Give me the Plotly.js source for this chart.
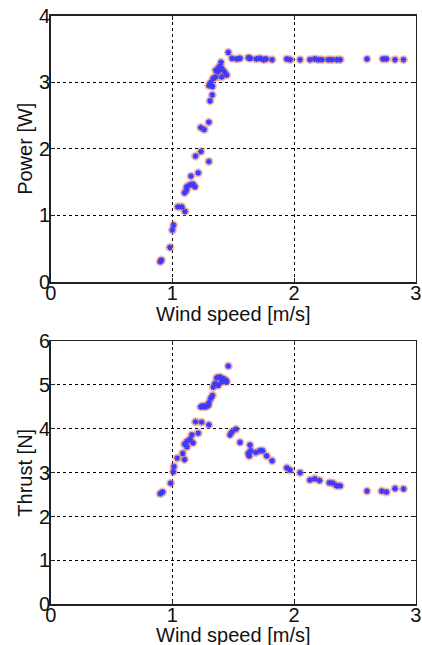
<!DOCTYPE html>
<html>
<head>
<meta charset="utf-8">
<script src="https://cdn.plot.ly/plotly-3.0.1.min.js"></script>
<style>
  html, body { margin: 0; padding: 0; background: #ffffff; }
  #chart { width: 422px; height: 645px; }
</style>
</head>
<body>
<div id="chart"></div>
<script>
// ---- Data ----
const windP = [0.90, 0.91, 0.98, 1.00, 1.01, 1.044, 1.077, 1.104, 1.10, 1.117, 1.145, 1.17, 1.186, 1.117,
  1.153, 1.213, 1.19, 1.235, 1.30, 1.233, 1.262, 1.30, 1.31, 1.328, 1.30, 1.33, 1.317, 1.336, 1.356, 1.405,
  1.356, 1.378, 1.427, 1.446, 1.383, 1.405, 1.40, 1.46, 1.49, 1.53, 1.556, 1.624, 1.64, 1.69, 1.72, 1.75,
  1.77, 1.82, 1.94, 1.97, 2.05, 2.13, 2.17, 2.20, 2.23, 2.28, 2.31, 2.35, 2.38, 2.60, 2.73, 2.76, 2.83, 2.90];
const power = [0.305, 0.33, 0.52, 0.78, 0.855, 1.13, 1.13, 1.06, 1.34, 1.43, 1.46, 1.47, 1.43, 1.38,
  1.59, 1.64, 1.89, 1.96, 1.81, 2.32, 2.29, 2.40, 2.72, 2.81, 2.95, 2.94, 3.00, 3.06, 3.08, 3.08,
  3.18, 3.16, 3.16, 3.11, 3.23, 3.21, 3.30, 3.45, 3.36, 3.35, 3.36, 3.37, 3.36, 3.35, 3.36, 3.34,
  3.35, 3.34, 3.35, 3.34, 3.34, 3.34, 3.35, 3.34, 3.34, 3.34, 3.34, 3.34, 3.34, 3.35, 3.35, 3.35, 3.34, 3.34];

const windT = [0.90, 0.92, 0.986, 1.008, 1.013, 1.04, 1.10, 1.085, 1.10, 1.12, 1.12, 1.17, 1.145, 1.16,
  1.213, 1.19, 1.24, 1.30, 1.233, 1.254, 1.27, 1.295, 1.30, 1.315, 1.33, 1.336, 1.35, 1.378, 1.364, 1.39,
  1.405, 1.42, 1.44, 1.446, 1.46, 1.474, 1.49, 1.523, 1.556, 1.638, 1.644, 1.624, 1.632, 1.687, 1.72, 1.742,
  1.775, 1.82, 1.94, 1.967, 2.05, 2.13, 2.17, 2.21, 2.29, 2.32, 2.35, 2.38, 2.60, 2.72, 2.76, 2.83, 2.90];
const thrust = [2.52, 2.56, 2.76, 3.02, 3.14, 3.33, 3.30, 3.44, 3.65, 3.59, 3.71, 3.68, 3.76, 3.86,
  3.90, 4.16, 4.15, 4.09, 4.50, 4.52, 4.50, 4.53, 4.59, 4.69, 4.76, 4.95, 5.03, 4.99, 5.16, 5.18,
  5.07, 5.14, 5.10, 5.07, 5.43, 3.86, 3.93, 3.99, 3.69, 3.63, 3.50, 3.44, 3.38, 3.46, 3.50, 3.50,
  3.38, 3.27, 3.11, 3.06, 3.00, 2.83, 2.86, 2.82, 2.77, 2.76, 2.70, 2.70, 2.58, 2.58, 2.56, 2.64, 2.63];

const xTicks = [0, 1, 2, 3];
const powerTicks = [0, 1, 2, 3, 4];
const thrustTicks = [0, 1, 2, 3, 4, 5, 6];
const xTitle = 'Wind speed [m/s]';
const powerTitle = 'Power [W]';
const thrustTitle = 'Thrust [N]';

// ---- Styles ----
const ringColor = 'rgba(230,125,100,0.5)';
const starColor = '#3a3aff';
const font = 'Liberation Sans, Arial, sans-serif';
const textColor = '#111111';

function ringTrace(x, y, xa, ya) {
  return { x: x, y: y, xaxis: xa, yaxis: ya, type: 'scatter', mode: 'markers',
    marker: { symbol: 'circle', size: 9, color: ringColor, line: { width: 0 } },
    hoverinfo: 'x+y', showlegend: false };
}
function starTrace(x, y, xa, ya) {
  return { x: x, y: y, xaxis: xa, yaxis: ya, type: 'scatter', mode: 'markers',
    marker: { symbol: 'asterisk-open', size: 5, color: starColor, line: { color: starColor, width: 1.4 } },
    hoverinfo: 'x+y', showlegend: false };
}

const data = [
  ringTrace(windP, power, 'x', 'y'), starTrace(windP, power, 'x', 'y'),
  ringTrace(windT, thrust, 'x2', 'y2'), starTrace(windT, thrust, 'x2', 'y2')
];

const xDomain = [50.7 / 422, 415.7 / 422];
const yDomTop = [1 - 282 / 645, 1 - 15.7 / 645];
const yDomBot = [1 - 604.3 / 645, 1 - 341 / 645];

function xAxis(anchor) {
  return {
    domain: xDomain, anchor: anchor, range: [0, 3],
    tickvals: xTicks, ticktext: xTicks.map(String),
    showgrid: true, gridcolor: '#000000', griddash: 'dot', gridwidth: 1,
    zeroline: false, showline: true, linecolor: '#222222', linewidth: 1.5, mirror: 'ticks',
    ticks: 'inside', ticklen: 4, tickcolor: '#222222', ticklabelstandoff: -8,
    tickfont: { family: font, size: 20, color: textColor },
    automargin: false, fixedrange: true
  };
}
function yAxis(anchor, domain, range, ticks) {
  return {
    domain: domain, anchor: anchor, range: range,
    tickvals: ticks, ticktext: ticks.map(String),
    showgrid: true, gridcolor: '#000000', griddash: 'dot', gridwidth: 1,
    zeroline: false, showline: true, linecolor: '#222222', linewidth: 1.5, mirror: 'ticks',
    ticks: 'inside', ticklen: 4, tickcolor: '#222222', ticklabelstandoff: -5,
    tickfont: { family: font, size: 20, color: textColor },
    automargin: false, fixedrange: true
  };
}

function titleAnn(text, x, y, angle) {
  return { text: text, xref: 'paper', yref: 'paper', x: x, y: y,
    xanchor: 'center', yanchor: 'middle', textangle: angle, showarrow: false,
    font: { family: font, size: 20, color: textColor } };
}

const xMid = (xDomain[0] + xDomain[1]) / 2;
const layout = {
  width: 422, height: 645,
  margin: { l: 0, r: 0, t: 0, b: 0 },
  paper_bgcolor: '#ffffff', plot_bgcolor: '#ffffff',
  showlegend: false,
  xaxis: xAxis('y'),
  yaxis: yAxis('x', yDomTop, [0, 4], powerTicks),
  xaxis2: xAxis('y2'),
  yaxis2: yAxis('x2', yDomBot, [0, 6], thrustTicks),
  annotations: [
    titleAnn(xTitle, xMid, 1 - 314 / 645, 0),
    titleAnn(xTitle, xMid, 1 - 635 / 645, 0),
    titleAnn(powerTitle, 25 / 422, (yDomTop[0] + yDomTop[1]) / 2, -90),
    titleAnn(thrustTitle, 25 / 422, (yDomBot[0] + yDomBot[1]) / 2, -90)
  ]
};

Plotly.newPlot('chart', data, layout, { displayModeBar: false, staticPlot: true });
</script>
</body>
</html>
